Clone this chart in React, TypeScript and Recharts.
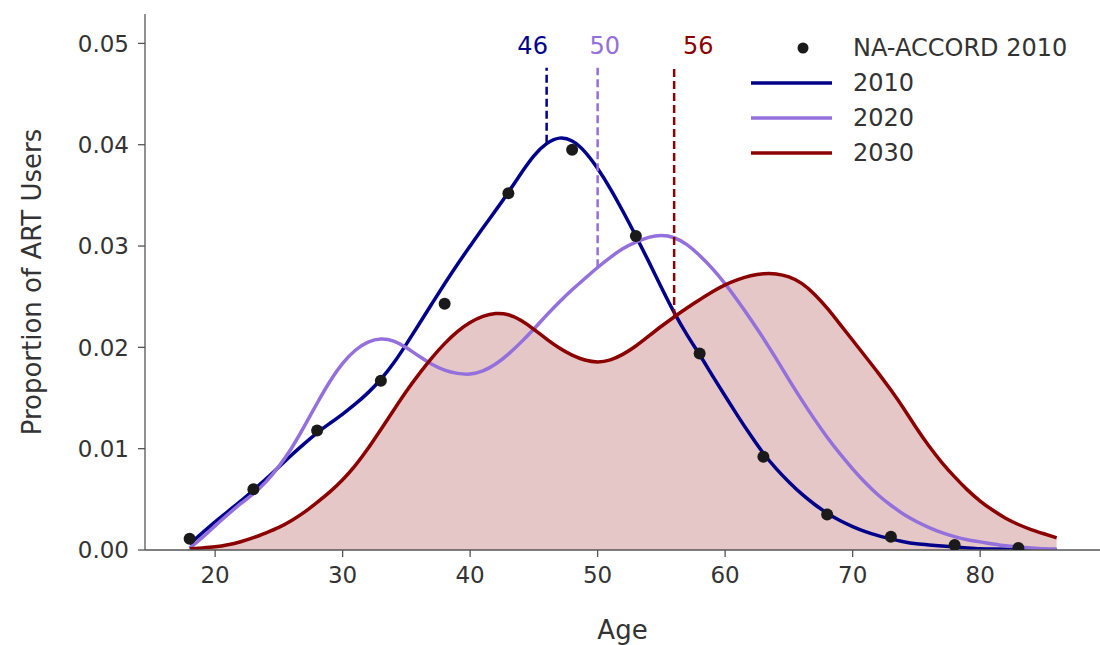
import React from 'react';
import {
  ComposedChart, Line, Area, Scatter, XAxis, YAxis, ReferenceLine, ReferenceDot, Label,
} from 'recharts';

const ages = [18,19,20,21,22,23,24,25,26,27,28,29,30,31,32,33,34,35,36,37,38,39,40,41,42,43,44,45,46,47,48,49,50,51,52,53,54,55,56,57,58,59,60,61,62,63,64,65,66,67,68,69,70,71,72,73,74,75,76,77,78,79,80,81,82,83,84,85,86];

const y2010 = [0.0006,0.0017,0.0028,0.0038,0.0048,0.0059,0.0070,0.0082,0.0094,0.0105,0.0116,0.0125,0.0134,0.0144,0.0155,0.0168,0.0184,0.0203,0.0223,0.0243,0.0263,0.0282,0.0300,0.0318,0.0335,0.0353,0.0372,0.0390,0.0402,0.0408,0.0405,0.0394,0.0377,0.0357,0.0334,0.0310,0.0285,0.0259,0.0234,0.0212,0.0193,0.0172,0.0152,0.0132,0.0113,0.0095,0.0080,0.0067,0.0055,0.0045,0.0036,0.0029,0.0023,0.0018,0.0014,0.0011,0.0008,0.0006,0.0005,0.0004,0.0003,0.0002,0.0001,0.0001,0.0001,0.0000,0.0000,0.0000,0.0000];

const y2020 = [0.0002,0.0012,0.0024,0.0035,0.0046,0.0055,0.0067,0.0082,0.0100,0.0122,0.0145,0.0167,0.0185,0.0198,0.0206,0.0209,0.0207,0.0200,0.0191,0.0183,0.0177,0.0174,0.0173,0.0176,0.0183,0.0193,0.0205,0.0218,0.0232,0.0245,0.0257,0.0268,0.0279,0.0289,0.0298,0.0304,0.0309,0.0311,0.0309,0.0302,0.0291,0.0278,0.0263,0.0246,0.0228,0.0209,0.0189,0.0168,0.0148,0.0129,0.0111,0.0095,0.0080,0.0066,0.0054,0.0044,0.0035,0.0028,0.0022,0.0017,0.0013,0.0010,0.0008,0.0006,0.0004,0.0003,0.0002,0.0001,0.0001];

const y2030 = [0.0001,0.0002,0.0003,0.0005,0.0008,0.0012,0.0017,0.0022,0.0029,0.0037,0.0047,0.0057,0.0069,0.0083,0.0100,0.0119,0.0138,0.0157,0.0174,0.0190,0.0204,0.0216,0.0225,0.0231,0.0234,0.0233,0.0227,0.0218,0.0208,0.0199,0.0192,0.0187,0.0185,0.0187,0.0193,0.0201,0.0211,0.0221,0.0230,0.0239,0.0247,0.0255,0.0262,0.0267,0.0271,0.0273,0.0273,0.0270,0.0264,0.0253,0.0239,0.0223,0.0207,0.0191,0.0175,0.0158,0.0140,0.0120,0.0102,0.0086,0.0072,0.0059,0.0048,0.0039,0.0031,0.0025,0.0020,0.0016,0.0012];

const pointAges = [18,23,28,33,38,43,48,53,58,63,68,73,78,83];
const pointValues = [0.0011,0.0060,0.0118,0.0167,0.0243,0.0352,0.0395,0.0310,0.0194,0.0092,0.0035,0.0013,0.0005,0.0002];

const meanAges = [46, 50, 56];
const meanLabels = ['46', '50', '56'];
const meanCurveValues = [0.0402, 0.0279, 0.0230];
const meanLineTop = 0.0476;
const meanLabelY = 0.0497;
const meanLabelX = [46.1, 50.55, 56.7];
const meanAnchors = ['end', 'middle', 'start'];

const xTicks = [20, 30, 40, 50, 60, 70, 80];
const yTicks = [0, 0.01, 0.02, 0.03, 0.04, 0.05];

const NAVY = '#00008B';
const LAV = '#9370DB';
const RED = '#8B0000';
const colors = [NAVY, LAV, RED];
const TEXT = '#333333';
const FONT = '"DejaVu Sans", sans-serif';

const data = ages.map((a, i) => ({ age: a, b: y2010[i], l: y2020[i], r: y2030[i] }));
const points = pointAges.map((a, i) => ({ age: a, v: pointValues[i] }));

const legendItems = [
  { label: 'NA-ACCORD 2010', kind: 'dot', color: '#1a1a1a' },
  { label: '2010', kind: 'line', color: NAVY },
  { label: '2020', kind: 'line', color: LAV },
  { label: '2030', kind: 'line', color: RED },
];

const LegendBox = () => (
  <div style={{ position: 'absolute', left: 751, top: 30, fontFamily: FONT, fontSize: 24, color: TEXT, lineHeight: 1 }}>
    {legendItems.map((it) => (
      <div key={it.label} style={{ display: 'flex', alignItems: 'center', height: 35 }}>
        <svg width={82} height={20} style={{ marginRight: 20 }}>
          {it.kind === 'dot' ? (
            <circle cx={52} cy={10} r={5.5} fill={it.color} />
          ) : (
            <line x1={0} y1={10} x2={81} y2={10} stroke={it.color} strokeWidth={3.5} />
          )}
        </svg>
        <span>{it.label}</span>
      </div>
    ))}
  </div>
);

export default function App() {
  return (
    <div style={{ position: 'absolute', left: 0, top: 0, width: 1100, height: 645, background: '#fff' }}>
      <ComposedChart
        width={1100}
        height={645}
        data={data}
        margin={{ top: 14, right: 0, bottom: 0, left: 65 }}
      >
        <XAxis
          type="number"
          dataKey="age"
          domain={[14.5, 89.4]}
          ticks={xTicks}
          allowDataOverflow
          height={95}
          tickSize={7}
          tickMargin={10}
          stroke="#555"
          strokeWidth={1.3}
          tick={{ fill: TEXT, fontSize: 23, fontFamily: FONT }}
        >
          <Label
            content={(props: any) => {
              const vb = props.viewBox;
              return (
                <text x={vb.x + vb.width / 2} y={639} textAnchor="middle" fill={TEXT} fontSize={26} fontFamily={FONT}>
                  Age
                </text>
              );
            }}
          />
        </XAxis>
        <YAxis
          type="number"
          domain={[0, 0.0529]}
          ticks={yTicks}
          allowDataOverflow
          width={80}
          tickSize={7}
          tickMargin={9}
          stroke="#555"
          strokeWidth={1.3}
          tickFormatter={(v: number) => v.toFixed(2)}
          tick={{ fill: TEXT, fontSize: 23, fontFamily: FONT }}
        >
          <Label
            content={(props: any) => {
              const vb = props.viewBox;
              const cy = vb.y + vb.height / 2;
              return (
                <text x={32} y={cy} transform={`rotate(-90 32 ${cy})`} textAnchor="middle" dominantBaseline="central" fill={TEXT} fontSize={26} fontFamily={FONT}>
                  Proportion of ART Users
                </text>
              );
            }}
          />
        </YAxis>
        <Area
          type="basis"
          dataKey="r"
          stroke="none"
          fill={RED}
          fillOpacity={0.22}
          isAnimationActive={false}
          legendType="none"
        />
        <Line type="basis" dataKey="b" stroke={NAVY} strokeWidth={3.5} dot={false} isAnimationActive={false} />
        <Line type="basis" dataKey="l" stroke={LAV} strokeWidth={3.5} dot={false} isAnimationActive={false} />
        <Line type="basis" dataKey="r" stroke={RED} strokeWidth={3.5} dot={false} isAnimationActive={false} />
        {meanAges.map((m, i) => (
          <ReferenceLine
            key={'ml' + i}
            segment={[{ x: m, y: meanCurveValues[i] }, { x: m, y: meanLineTop }]}
            stroke={colors[i]}
            strokeWidth={2.5}
            strokeDasharray="8 4"
            ifOverflow="visible"
          />
        ))}
        {meanAges.map((m, i) => (
          <ReferenceDot
            key={'mt' + i}
            x={meanLabelX[i]}
            y={meanLabelY}
            ifOverflow="visible"
            shape={(p: any) => (
              <text x={p.cx} y={p.cy} textAnchor={meanAnchors[i] as any} dominantBaseline="central" fill={colors[i]} fontSize={24} fontFamily={FONT}>
                {meanLabels[i]}
              </text>
            )}
          />
        ))}
        <Scatter
          data={points}
          dataKey="v"
          isAnimationActive={false}
          shape={(p: any) => <circle cx={p.cx} cy={p.cy} r={6} fill="#1a1a1a" />}
        />
      </ComposedChart>
      <LegendBox />
    </div>
  );
}
